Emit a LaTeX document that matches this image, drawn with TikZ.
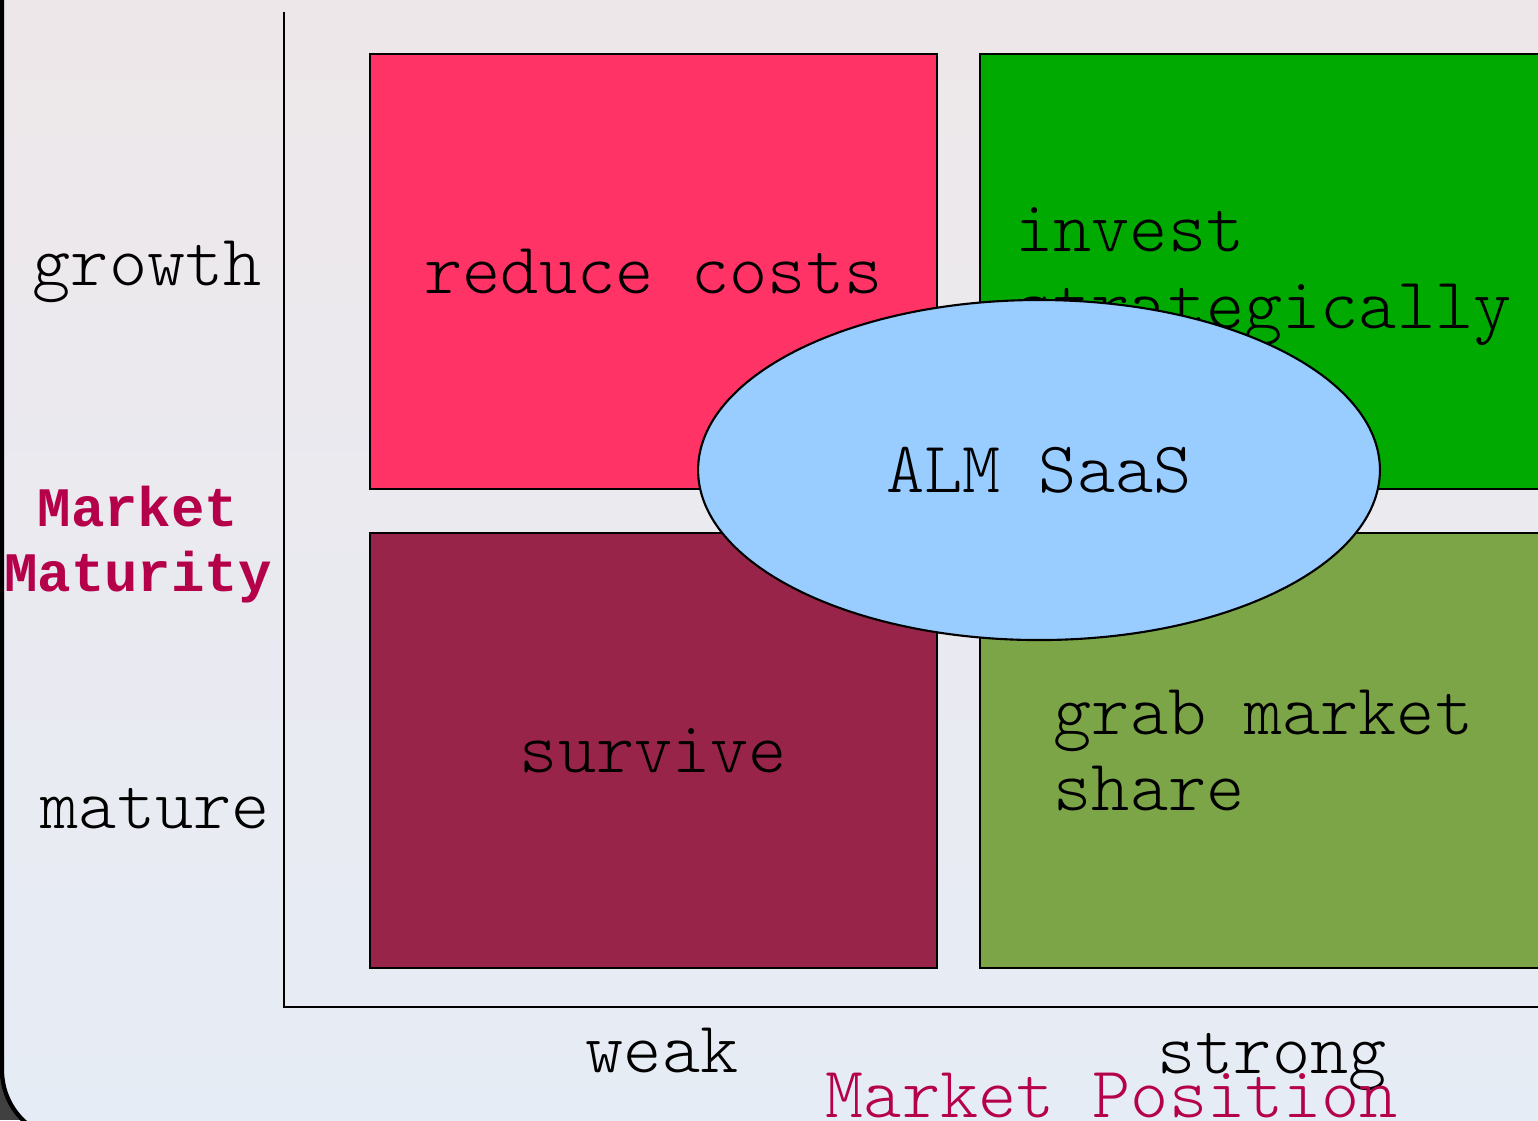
\documentclass[tikz,border=0pt]{standalone}
\usepackage{fontspec}
\newfontfamily\courfont{Latin Modern Mono Light}
\newfontfamily\courbold{Liberation Mono}
\usetikzlibrary{shapes.geometric}

\definecolor{reducecol}{HTML}{FF3366}
\definecolor{investcol}{HTML}{00AA00}
\definecolor{survivecol}{HTML}{99244A}
\definecolor{grabcol}{HTML}{7CA547}
\definecolor{saascol}{HTML}{99CCFF}
\definecolor{labelcol}{HTML}{B5004A}
\definecolor{pinkbg}{HTML}{F0E6E6}
\definecolor{bluebg}{HTML}{E6ECF5}

\tikzset{
  quadbox/.style={draw=black, line width=0.6pt, minimum width=160.7pt, minimum height=123.3pt,
    inner sep=0pt, align=left, font=\courfont\fontsize{20.6pt}{21.8pt}\selectfont},
  axistext/.style={inner sep=0pt, font=\courfont\fontsize{20.6pt}{21.8pt}\selectfont},
  titletext/.style={inner sep=0pt, text=labelcol},
}

\begin{document}
\begin{tikzpicture}[x=0.2835pt, y=-0.2835pt]
		\useasboundingbox (0,0) rectangle (1538,1120);
		\clip (0,0) rectangle (1538,1120);
		
		% Define background
		\fill[black!75] (0,0) rectangle (1538,1120);
		\shade[top color=pinkbg, bottom color=bluebg, middle color=bluebg!60!pinkbg]
			[rounded corners=19.8pt] (2,-200) rectangle (2000,1140);
		\draw[line width=1.2pt, rounded corners=19.8pt] (2,-200) rectangle (2000,1140);
		
		% Define axes
		\coordinate (AxisTop) at (284,12);
		\coordinate (Origin) at (284,1007);
		\coordinate (AxisRight) at (1538,1007);
		\draw[line width=0.7pt] (AxisTop) -- (Origin) -- (AxisRight);
		
		% Define quadrants
		\node[quadbox, fill=reducecol] (Reduce) at (653.5,271.5) {reduce costs};
		\node[quadbox, fill=investcol] (Invest) at (1263.5,271.5) {\strut invest\\strategically};
		\node[quadbox, fill=survivecol] (Survive) at (653.5,750.5) {survive};
		\node[quadbox, fill=grabcol] (Grab) at (1263.5,750.5) {grab market\\share};
		
		% Define ellipse
		\node[ellipse, draw=black, line width=0.6pt, fill=saascol, inner sep=0pt,
			minimum width=193.3pt, minimum height=96.4pt,
			font=\courfont\fontsize{20.6pt}{21.8pt}\selectfont] (SaaS) at (1039,470) {ALM SaaS};
		
		% Define axis labels
		\node[axistext, anchor=base west] (Growth) at (32,285) {growth};
		\node[axistext, anchor=base west] (Mature) at (40,828) {mature};
		\node[titletext, align=center, font=\courbold\bfseries\fontsize{15.8pt}{18.4pt}\selectfont]
			(Maturity) at (138,545) {Market\\Maturity};
		\node[axistext, anchor=base] (Weak) at (662,1072) {weak};
		\node[axistext, anchor=base] (Strong) at (1272,1073) {strong};
		\node[titletext, anchor=base west, font=\courfont\fontsize{20.6pt}{21.8pt}\selectfont]
			(Position) at (825,1117) {Market Position};
	\end{tikzpicture}
\end{document}
